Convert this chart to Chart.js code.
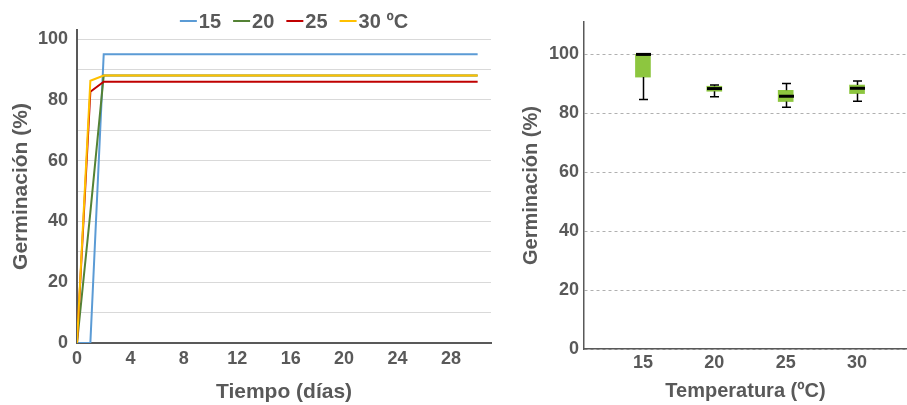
<!doctype html>
<html lang="es">
<head>
<meta charset="utf-8">
<title>Germinación</title>
<script src="https://cdn.jsdelivr.net/npm/chart.js"></script>
<style>
  * { margin: 0; padding: 0; }
  body { width: 907px; height: 405px; background: #fff; position: relative; overflow: hidden; }
  .box { position: absolute; top: 0; height: 405px; }
  #left { left: 0; width: 500px; }
  #right { left: 500px; width: 407px; }
</style>
</head>
<body>
<div class="box" id="left"><canvas id="lineChart"></canvas></div>
<div class="box" id="right"><canvas id="boxChart"></canvas></div>
<script>
// left chart: cumulative germination over time
const days = [0, 1, 2, 30];
const g15 = [0, 0, 95, 95];
const g20 = [0, 43, 88, 88];
const g25 = [0, 82.7, 86, 86];
const g30 = [0, 86.3, 88, 88];
const seriesNames = ['15', '20', '25', '30 ºC'];
const dayTicks = [0, 4, 8, 12, 16, 20, 24, 28];

// right chart: box plot per temperature
const temps = [15, 20, 25, 30];
const boxLow = [92.3, 87.5, 84.0, 86.7];
const boxHigh = [100, 89.2, 87.8, 89.6];
const medians = [100, 88.4, 85.8, 88.5];
const whiskerLow = [84.7, 85.6, 82.1, 84.1];
const whiskerHigh = [100, 89.6, 90.1, 91.0];
const germTicks = [0, 20, 40, 60, 80, 100];

const txt = '#595959';
const FONT = 'Liberation Sans, Arial, sans-serif';
Chart.defaults.font.family = FONT;
Chart.defaults.color = txt;
Chart.defaults.animation = false;
Chart.defaults.responsive = true;
Chart.defaults.maintainAspectRatio = false;

function pts(ys) { return days.map((d, i) => ({ x: d, y: ys[i] })); }

const lineColors = ['#5b9bd5', '#548235', '#c00000', '#ffc000'];
const lineData = [g15, g20, g25, g30];

// small legend: short coloured line right before each label
const lineLegend = {
  id: 'lineLegend',
  afterDraw(chart) {
    const ctx = chart.ctx;
    const sets = chart.data.datasets;
    ctx.save();
    ctx.font = 'bold 20px ' + FONT;
    ctx.textBaseline = 'middle';
    const seg = 17, gap = 2, sep = 12;
    const widths = sets.map(d => ctx.measureText(d.label).width);
    const total = widths.reduce((a, w) => a + seg + gap + w, 0) + sep * (sets.length - 1);
    let x = 294 - total / 2;
    const y = 21;
    sets.forEach((d, i) => {
      ctx.strokeStyle = d.borderColor;
      ctx.lineWidth = 2;
      ctx.beginPath();
      ctx.moveTo(x, y);
      ctx.lineTo(x + seg, y);
      ctx.stroke();
      x += seg + gap;
      ctx.fillStyle = txt;
      ctx.fillText(d.label, x, y + 1);
      x += widths[i] + sep;
    });
    ctx.restore();
  }
};

new Chart(document.getElementById('lineChart'), {
  type: 'line',
  data: {
    datasets: lineData.map((ys, i) => ({
      label: seriesNames[i],
      data: pts(ys),
      borderColor: lineColors[i],
      backgroundColor: lineColors[i],
      borderWidth: 2,
      pointRadius: 0,
      tension: 0,
      order: 4 - i
    }))
  },
  options: {
    layout: { padding: { top: 30, right: 9 } },
    plugins: { legend: { display: false }, tooltip: { enabled: false } },
    scales: {
      x: {
        type: 'linear',
        min: 0,
        max: 31,
        afterBuildTicks: s => { s.ticks = dayTicks.map(v => ({ value: v })); },
        afterFit: s => { s.height = 62; },
        grid: { display: false, drawTicks: false },
        border: { display: true, color: '#595959', width: 2 },
        ticks: { font: { size: 18, weight: 'bold' }, color: txt, padding: 5, maxRotation: 0 },
        title: { display: true, text: 'Tiempo (días)', font: { size: 21, weight: 'bold' }, color: txt, padding: { top: 0, bottom: 0 } }
      },
      y: {
        min: 0,
        max: 103,
        afterBuildTicks: s => {
          const t = [];
          for (let v = 0; v <= 100; v += 10) t.push({ value: v });
          s.ticks = t;
        },
        afterFit: s => { s.width = 77; },
        grid: { color: '#d9d9d9', lineWidth: 1, drawTicks: false },
        border: { display: true, color: '#595959', width: 2 },
        ticks: {
          font: { size: 18, weight: 'bold' },
          color: txt,
          padding: 9,
          callback: v => (v % 20 === 0 ? v : '')
        },
        title: { display: true, text: 'Germinación (%)', font: { size: 21, weight: 'bold' }, color: txt, padding: { top: 9, bottom: 0 } }
      }
    }
  },
  plugins: [lineLegend]
});

// whiskers and medians drawn on top of the floating bars
const boxExtras = {
  id: 'boxExtras',
  afterDatasetsDraw(chart) {
    const { ctx, scales: { x, y } } = chart;
    ctx.save();
    ctx.strokeStyle = '#000';
    temps.forEach((t, i) => {
      const cx = Math.round(x.getPixelForValue(t)) + 0.5;
      ctx.lineWidth = 1.5;
      ctx.beginPath();
      ctx.moveTo(cx, y.getPixelForValue(boxLow[i]));
      ctx.lineTo(cx, y.getPixelForValue(whiskerLow[i]));
      ctx.moveTo(cx, y.getPixelForValue(boxHigh[i]));
      ctx.lineTo(cx, y.getPixelForValue(whiskerHigh[i]));
      ctx.moveTo(cx - 4.5, y.getPixelForValue(whiskerLow[i]));
      ctx.lineTo(cx + 4.5, y.getPixelForValue(whiskerLow[i]));
      ctx.moveTo(cx - 4.5, y.getPixelForValue(whiskerHigh[i]));
      ctx.lineTo(cx + 4.5, y.getPixelForValue(whiskerHigh[i]));
      ctx.stroke();
      ctx.lineWidth = 3;
      ctx.beginPath();
      ctx.moveTo(cx - 7.5, y.getPixelForValue(medians[i]));
      ctx.lineTo(cx + 7.5, y.getPixelForValue(medians[i]));
      ctx.stroke();
    });
    ctx.restore();
  }
};

new Chart(document.getElementById('boxChart'), {
  type: 'bar',
  data: {
    datasets: [{
      label: 'Germinación',
      data: temps.map((t, i) => ({ x: t, y: [boxLow[i], boxHigh[i]] })),
      backgroundColor: '#8dc63f',
      borderWidth: 0,
      barThickness: 15
    }]
  },
  options: {
    layout: { padding: { top: 22, right: 0 } },
    plugins: { legend: { display: false }, tooltip: { enabled: false } },
    scales: {
      x: {
        type: 'linear',
        offset: false,
        min: 10.87,
        max: 33.5,
        afterBuildTicks: s => { s.ticks = temps.map(v => ({ value: v })); },
        afterFit: s => { s.height = 56; },
        grid: { display: false, drawTicks: false },
        border: { display: true, color: '#595959', width: 1.5 },
        ticks: { font: { size: 18, weight: 'bold' }, color: txt, padding: 3, maxRotation: 0 },
        title: { display: true, text: 'Temperatura (ºC)', font: { size: 20, weight: 'bold' }, color: txt, padding: { top: 0, bottom: 2 } }
      },
      y: {
        min: 0,
        max: 111,
        afterBuildTicks: s => { s.ticks = germTicks.map(v => ({ value: v })); },
        afterFit: s => { s.width = 84; },
        grid: { color: '#b0b0b0', lineWidth: 1, drawTicks: false },
        border: { display: true, color: '#595959', width: 1.5, dash: [3, 3] },
        ticks: { font: { size: 18, weight: 'bold' }, color: txt, padding: 5 },
        title: { display: true, text: 'Germinación (%)', font: { size: 20, weight: 'bold' }, color: txt, padding: { top: 19, bottom: 0 } }
      }
    }
  },
  plugins: [boxExtras]
});
</script>
</body>
</html>
